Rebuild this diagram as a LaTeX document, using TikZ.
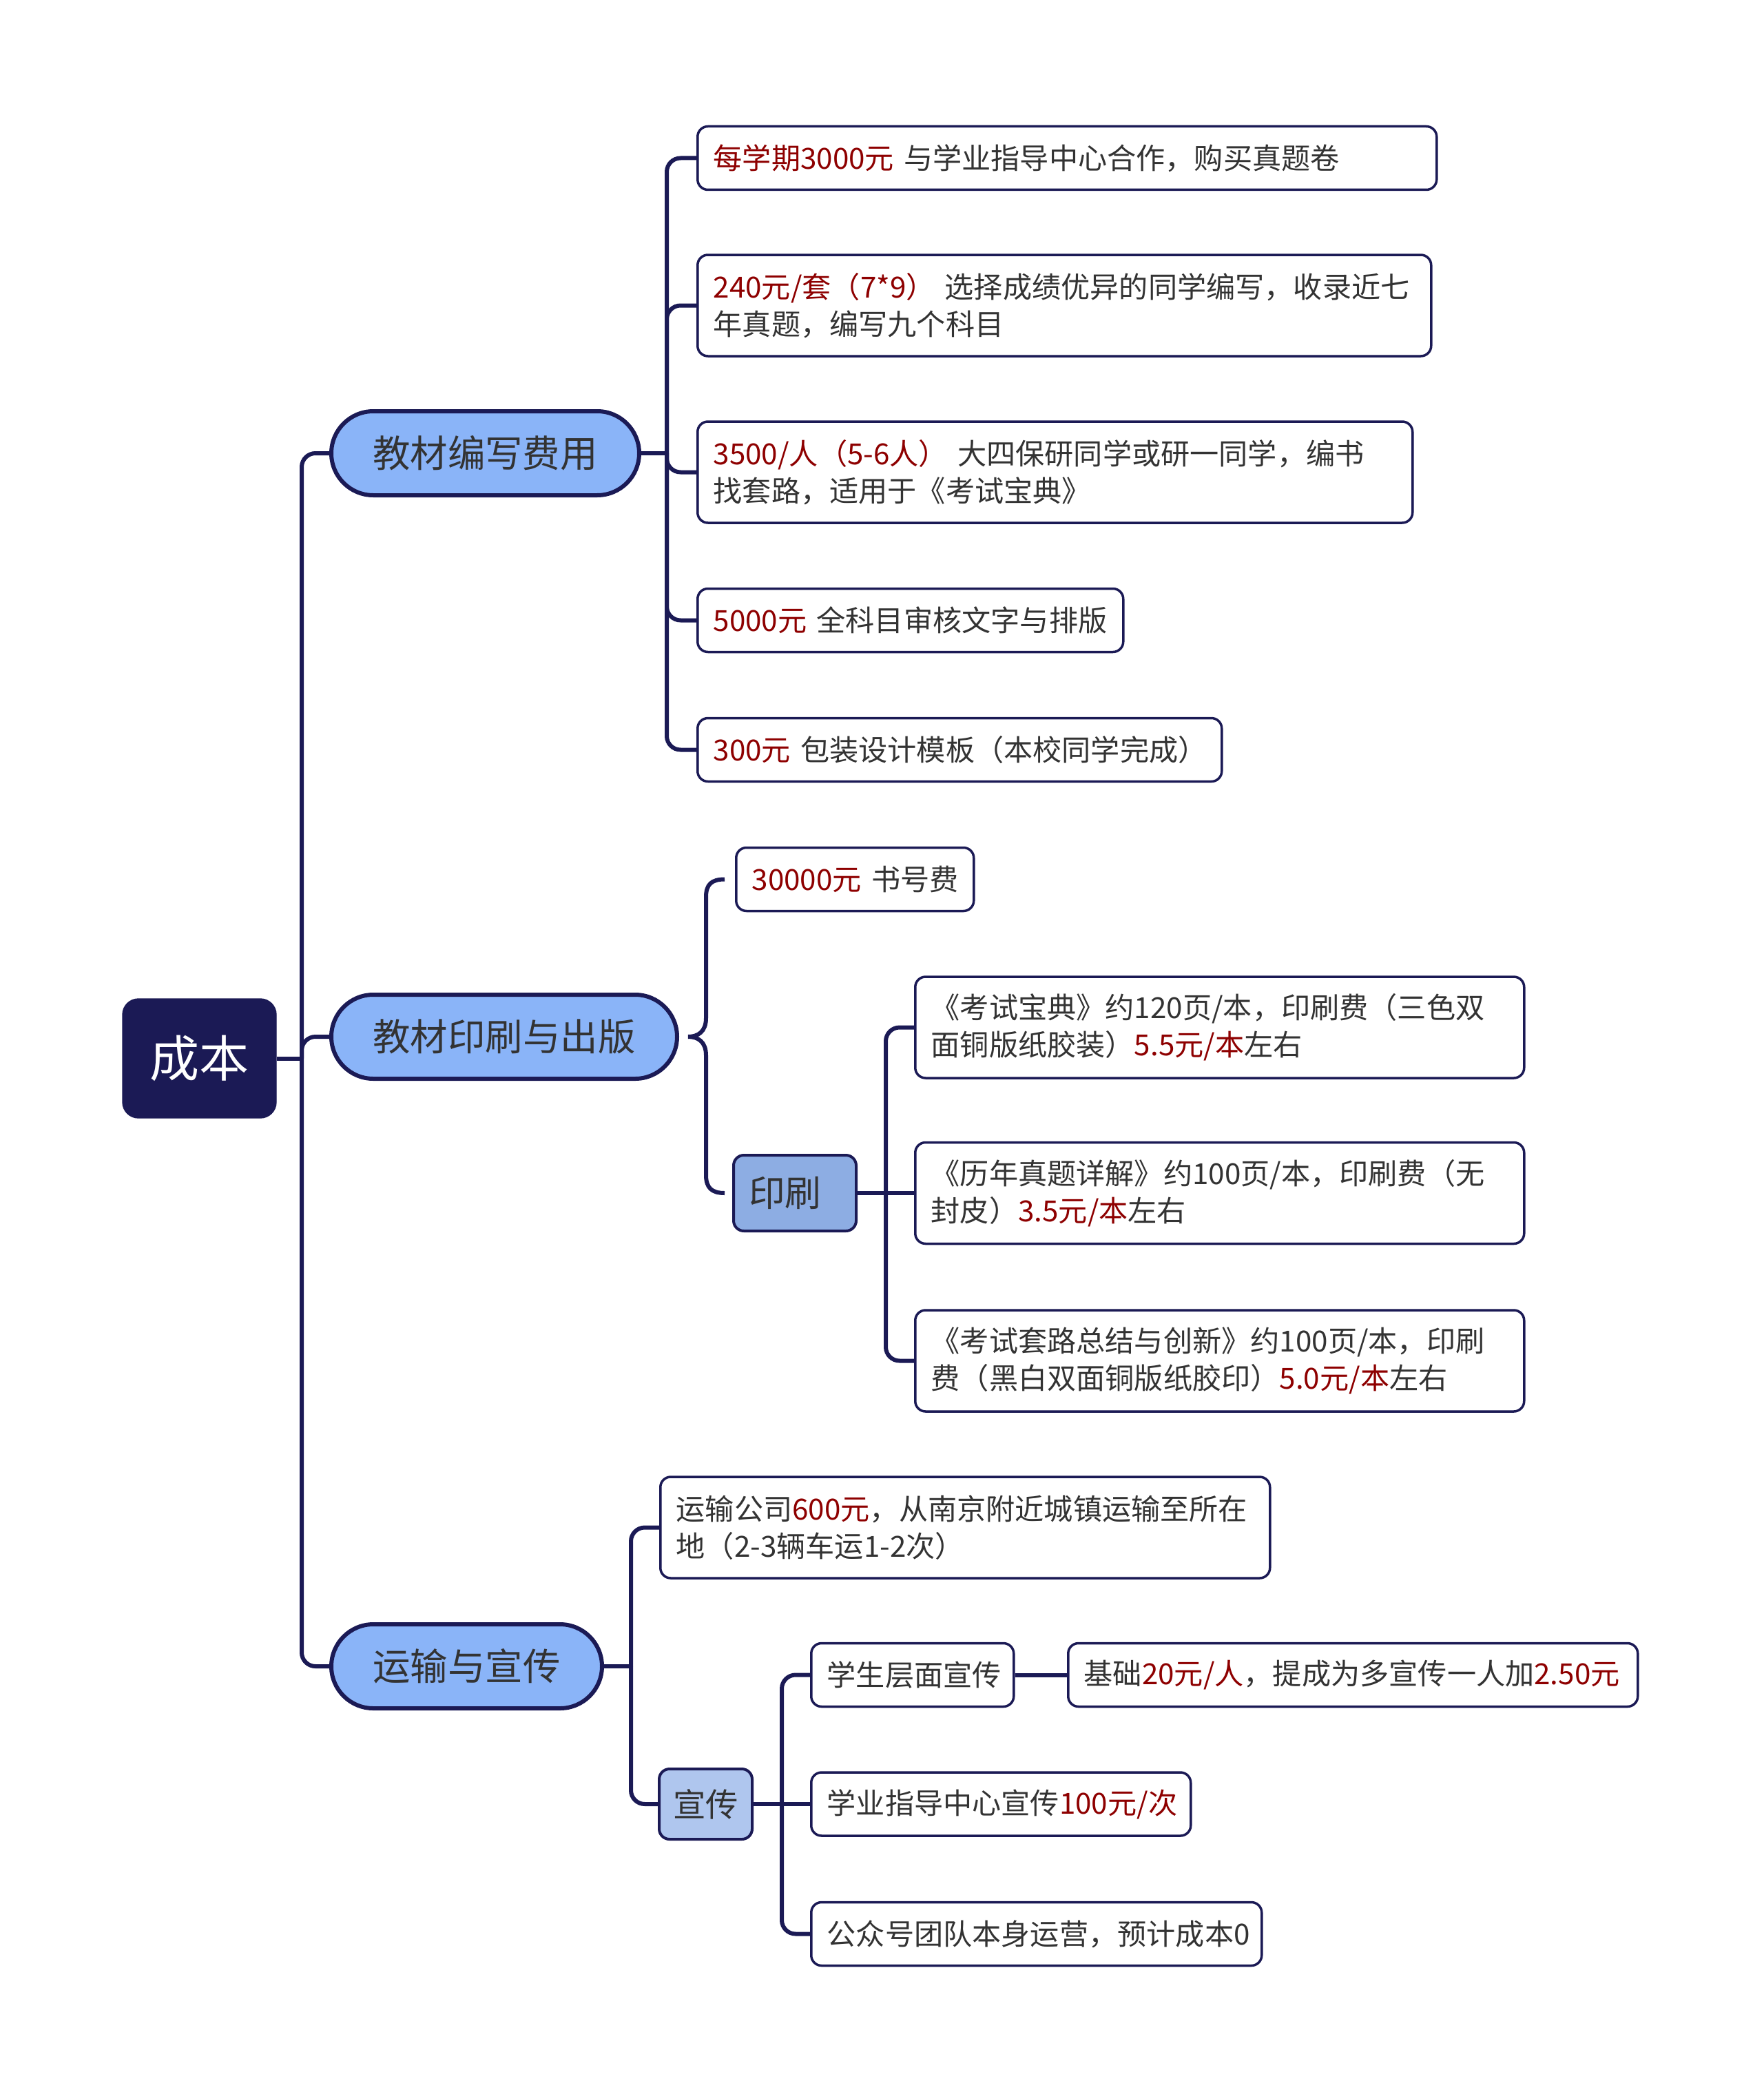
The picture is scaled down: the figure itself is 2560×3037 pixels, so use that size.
\documentclass[tikz,border=0pt]{standalone}
\usepackage{fontspec}
\setmainfont{Noto Sans CJK SC}
\definecolor{navy}{HTML}{1B1A55}
\definecolor{mainblue}{HTML}{8AB4F8}
\definecolor{subblue}{HTML}{8DADE3}
\definecolor{lightblue}{HTML}{AFC6EE}
\definecolor{txt}{HTML}{333333}
\definecolor{hlred}{HTML}{8E0000}
\newcommand{\rd}[1]{\textcolor{hlred}{#1}}
\begin{document}
\begin{tikzpicture}[x=0.1mm,y=-0.1mm,
  conn/.style={draw=navy,line width=0.6mm,rounded corners=2mm},
  rootbox/.style={fill=navy,draw=navy,rounded corners=2.3mm,text=white,
    font=\fontsize{20.5}{24}\selectfont,inner sep=0pt,minimum width=22.3mm,minimum height=17.3mm},
  mainbox/.style={fill=mainblue,draw=navy,line width=0.6mm,rounded corners=6.1mm,text=txt,
    font=\fontsize{15.5}{19}\selectfont,inner sep=0pt,minimum height=12.2mm},
  subbox/.style={draw=navy,line width=0.4mm,rounded corners=1.5mm,text=txt,inner sep=0pt},
  leaf/.style={fill=white,draw=navy,line width=0.35mm,rounded corners=1.5mm,text=txt,
    font=\fontsize{12}{15.4}\selectfont,align=left,inner xsep=2.3mm,inner ysep=0pt,anchor=west},
  one/.style={minimum height=9.2mm},
  two/.style={minimum height=14.7mm}]
\useasboundingbox (0,0) rectangle (2560,3037);

% ---------- nodes ----------
\node[rootbox] (root) at (289.5,1536.5) {成本};

\node[mainbox,minimum width=44.7mm] (m1) at (704.5,658) {教材编写费用};
\node[mainbox,minimum width=50.2mm] (m2) at (732,1505) {教材印刷与出版};
\node[mainbox,minimum width=39.3mm] (m3) at (677.5,2419) {运输与宣传};

\node[leaf,one,text width=102.7mm] (l1) at (1011,229.5) {\rd{每学期3000元}~与学业指导中心合作，购买真题卷};
\node[leaf,two,text width=101.9mm] (l2) at (1011,443.5) {\rd{240元/套（7*9）}~选择成绩优异的同学编写，收录近七\\年真题，编写九个科目};
\node[leaf,two,text width=99.2mm] (l3) at (1011,685.5) {\rd{3500/人（5-6人）}~大四保研同学或研一同学，编书\\找套路，适用于《考试宝典》};
\node[leaf,one,text width=57.2mm] (l4) at (1011,900.5) {\rd{5000元}~全科目审核文字与排版};
\node[leaf,one,text width=71.5mm] (l5) at (1011,1088.5) {\rd{300元}~包装设计模板（本校同学完成）};

\node[leaf,one,text width=29.9mm] (b1) at (1067,1276.5) {\rd{30000元}~书号费};
\node[subbox,fill=subblue,font=\fontsize{15}{18}\selectfont,minimum height=11mm,
  inner xsep=2.2mm,text width=13.4mm,align=left] (yin) at (1154,1732) {印刷};

\node[leaf,two,text width=83.8mm] (p1) at (1327,1491.5) {《考试宝典》约120页/本，印刷费（三色双\\面铜版纸胶装）\rd{5.5元/本}左右};
\node[leaf,two,text width=83.8mm] (p2) at (1327,1732) {《历年真题详解》约100页/本，印刷费（无\\封皮）\rd{3.5元/本}左右};
\node[leaf,two,text width=83.8mm] (p3) at (1327,1975.5) {《考试套路总结与创新》约100页/本，印刷\\费（黑白双面铜版纸胶印）\rd{5.0元/本}左右};

\node[leaf,two,text width=83.9mm] (t1) at (957,2217.5) {运输公司\rd{600元}，从南京附近城镇运输至所在\\地（2-3辆车运1-2次）};
\node[subbox,fill=lightblue,font=\fontsize{13.5}{16}\selectfont,minimum width=13.5mm,minimum height=10.2mm] (xc) at (1024.5,2619) {宣传};

\node[leaf,one,text width=24.8mm] (x1) at (1176,2431.5) {学生层面宣传};
\node[leaf,one,text width=78.1mm] (y1) at (1549,2431.5) {基础\rd{20元/人}，提成为多宣传一人加\rd{2.50元}};
\node[leaf,one,text width=50.5mm] (x2) at (1176,2619) {学业指导中心宣传\rd{100元/次}};
\node[leaf,one,text width=60.8mm] (x3) at (1176,2807.5) {公众号团队本身运营，预计成本0};

% ---------- connectors ----------
\coordinate (j0) at (438,1536.5);
\coordinate (j0a) at (438,658);
\coordinate (j0b) at (438,2419);
\draw[conn] (root.east) -- (j0);
\draw[conn] (m1.west) -- (j0a) -- (j0b) -- (m3.west);
\draw[conn] (j0) |- (m2.west);

\coordinate (j1) at (968,658);
\draw[conn] (m1.east) -- (j1);
\foreach \n in {l1,l2,l3,l4,l5} \draw[conn] (j1) |- (\n.west);

% brace for m2
\coordinate (bt) at (1052,1276.5);
\coordinate (bb) at (1052,1732);
\coordinate (btip) at (999,1505);
\draw[navy,line width=0.6mm] (bt) .. controls (1033,1276.5) and (1025,1284) .. (1025,1302)
  -- (1025,1478) .. controls (1025,1498) and (1013,1505) .. (btip);
\draw[navy,line width=0.6mm] (btip) .. controls (1013,1505) and (1025,1512) .. (1025,1532)
  -- (1025,1706) .. controls (1025,1724) and (1033,1732) .. (bb);

\coordinate (j3) at (1286,1732);
\draw[conn] (yin.east) -- (j3);
\draw[conn] (j3) |- (p1.west);
\draw[conn] (j3) -- (p2.west);
\draw[conn] (j3) |- (p3.west);

\coordinate (j4) at (916,2419);
\draw[conn] (m3.east) -- (j4);
\draw[conn] (j4) |- (t1.west);
\draw[conn] (j4) |- (xc.west);

\coordinate (j5) at (1135,2619);
\draw[conn] (xc.east) -- (j5);
\draw[conn] (j5) |- (x1.west);
\draw[conn] (j5) -- (x2.west);
\draw[conn] (j5) |- (x3.west);
\draw[conn] (x1.east) -- (y1.west);
\end{tikzpicture}
\end{document}
